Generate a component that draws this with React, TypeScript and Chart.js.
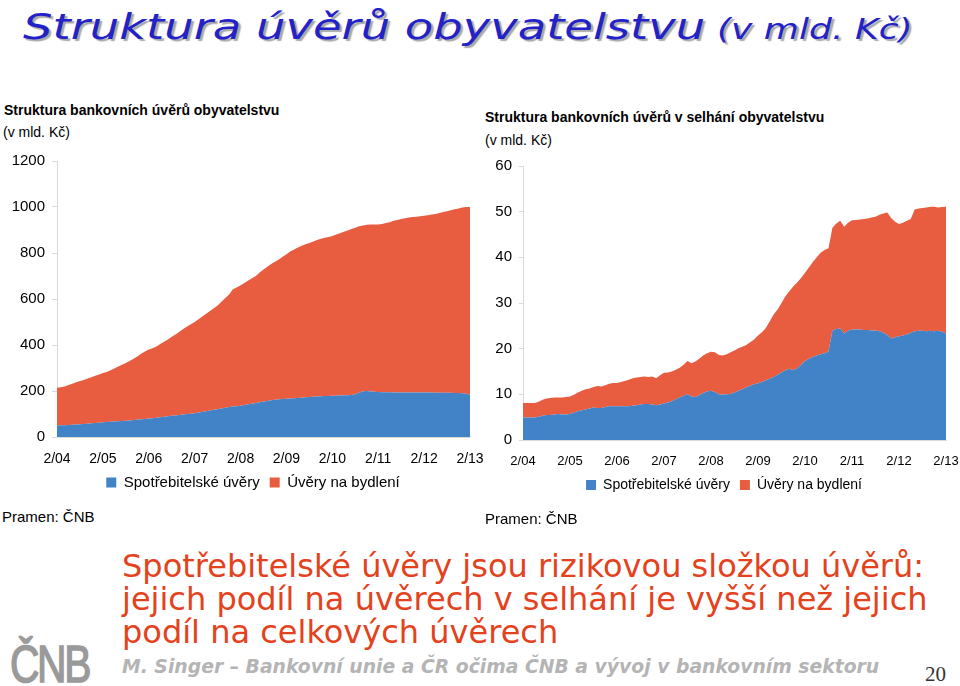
import React, { useEffect, useRef } from "react";
import { Chart, registerables } from "chart.js";

Chart.register(...registerables);

// ---- data ----
const YEAR_TICKS = ["2/04", "2/05", "2/06", "2/07", "2/08", "2/09", "2/10", "2/11", "2/12", "2/13"];
const SERIES_NAMES = ["Spotřebitelské úvěry", "Úvěry na bydlení"];
const SERIES_COLORS = ["#4183c6", "#e85c40"];

// monthly, 2/04 .. 2/13 (bn CZK)
const TOTAL_CONSUMER = [
  50, 51, 51, 52, 53, 54, 55, 57, 58, 60, 61, 62,
  64, 65, 66, 67, 68, 70, 71, 72, 74, 75, 77, 78,
  80, 82, 84, 86, 88, 90, 92, 94, 96, 98, 100, 101,
  103, 106, 109, 112, 115, 118, 121, 124, 127, 130, 133, 134,
  136, 139, 142, 145, 148, 151, 154, 157, 160, 162, 164, 165,
  166, 167, 168, 170, 171, 173, 174, 175, 176, 177, 178, 178,
  179, 179, 180, 181, 182, 183, 186, 192, 199, 200, 198, 197,
  196, 195, 195, 195, 194, 194, 194, 194, 194, 193, 193, 193,
  193, 193, 193, 192, 192, 192, 192, 192, 191, 191, 190, 188,
  184,
];
const TOTAL_HOUSING = [
  164, 165, 169, 174, 179, 184, 188, 191, 196, 200, 205, 210,
  214, 218, 224, 231, 238, 244, 251, 258, 266, 275, 285, 294,
  300, 304, 310, 318, 326, 334, 344, 352, 362, 372, 380, 389,
  397, 406, 415, 424, 433, 442, 451, 464, 477, 490, 509, 516,
  524, 531, 538, 545, 552, 564, 574, 583, 592, 600, 608, 619,
  629, 639, 647, 654, 661, 665, 670, 675, 680, 685, 688, 692,
  695, 701, 706, 711, 716, 721, 724, 724, 721, 723, 726, 727,
  728, 731, 735, 739, 746, 750, 754, 757, 760, 764, 765, 767,
  769, 771, 774, 778, 782, 786, 790, 794, 799, 803, 808, 812,
  816,
];
const NPL_CONSUMER = [
  4.9, 4.9, 4.9, 4.9, 5.1, 5.3, 5.5, 5.5, 5.6, 5.7, 5.6, 5.6,
  5.7, 6.0, 6.3, 6.5, 6.7, 6.9, 7.1, 7.0, 7.0, 7.2, 7.4, 7.4,
  7.4, 7.4, 7.4, 7.4, 7.5, 7.6, 7.8, 7.9, 7.9, 7.8, 7.6, 7.8,
  8.0, 8.2, 8.5, 8.9, 9.3, 9.7, 10.0, 9.5, 9.4, 9.8, 10.3, 10.6,
  10.8, 10.5, 10.0, 9.9, 10.0, 10.1, 10.4, 10.8, 11.1, 11.5, 11.9, 12.2,
  12.4, 12.7, 13.1, 13.4, 13.8, 14.3, 14.8, 15.3, 15.6, 15.3, 15.7, 16.5,
  17.3, 17.8, 18.2, 18.5, 18.8, 19.0, 19.4, 24.0, 24.3, 24.4, 23.3, 23.9,
  24.2, 24.2, 24.2, 24.1, 24.1, 24.0, 24.0, 23.8, 23.5, 23.0, 22.2, 22.5,
  22.7, 22.9, 23.1, 23.5, 23.8, 23.9, 23.9, 23.8, 23.9, 23.8, 23.9, 23.7,
  23.3,
];
const NPL_HOUSING = [
  3.2, 3.2, 3.2, 3.2, 3.3, 3.5, 3.6, 3.7, 3.7, 3.6, 3.7, 3.8,
  3.8, 3.9, 4.1, 4.3, 4.4, 4.4, 4.5, 4.8, 4.7, 4.8, 4.9, 5.1,
  5.1, 5.3, 5.5, 5.8, 6.0, 6.1, 6.0, 6.0, 5.9, 6.1, 5.9, 6.4,
  6.7, 6.6, 6.5, 6.5, 6.5, 6.8, 7.3, 7.3, 7.8, 8.0, 8.2, 8.4,
  8.5, 8.7, 8.6, 8.6, 8.8, 9.1, 9.2, 9.3, 9.3, 9.3, 9.5, 9.8,
  10.5, 10.9, 11.4, 12.6, 13.7, 14.3, 15.2, 16.2, 17.0, 18.3, 18.8, 19.0,
  19.3, 20.0, 20.8, 21.5, 22.2, 22.6, 22.6, 22.5, 23.1, 23.6, 23.4, 23.7,
  23.9, 24.0, 24.1, 24.3, 24.4, 24.7, 24.9, 25.5, 26.1, 26.8, 26.4, 25.3,
  24.6, 24.7, 24.9, 24.9, 26.7, 26.8, 26.9, 27.1, 27.2, 27.3, 27.0, 27.3,
  27.8,
];

// category labels: months from 2/04 to 2/13
const MONTHS: string[] = [];
for (let m = 0; m < TOTAL_CONSUMER.length; m++) {
  const k = m + 1; // months after January 2004
  const month = (k % 12) + 1;
  const year = 4 + Math.floor(k / 12);
  MONTHS.push(`${month}/${String(year).padStart(2, "0")}`);
}

type Cfg = {
  consumer: number[];
  housing: number[];
  yMax: number;
  yStep: number;
  yFont: number;
  xFont: number;
  legendFont: number;
  padding: { top: number; left: number; right: number; bottom: number };
  yWidth: number;
  rightSpace: number;
  xHeight: number;
  xGap: number;
  tickLen: number;
};

const FONT = "'Liberation Sans', Arial, sans-serif";

function makeConfig(c: Cfg): any {
  const ds = (i: number, data: number[], fill: any) => ({
    label: SERIES_NAMES[i],
    data,
    backgroundColor: SERIES_COLORS[i],
    borderColor: SERIES_COLORS[i],
    borderWidth: 0,
    pointRadius: 0,
    pointHoverRadius: 0,
    tension: 0,
    fill,
  });
  return {
    type: "line",
    data: {
      labels: MONTHS,
      datasets: [ds(0, c.consumer, "origin"), ds(1, c.housing, "-1")],
    },
    options: {
      animation: false,
      responsive: false,
      devicePixelRatio: 1,
      events: [],
      layout: { padding: c.padding },
      plugins: {
        title: { display: false },
        tooltip: { enabled: false },
        legend: {
          display: true,
          position: "bottom",
          labels: {
            boxWidth: 10,
            boxHeight: 10,
            padding: 10,
            color: "#000",
            font: { family: FONT, size: c.legendFont },
          },
        },
      },
      scales: {
        x: {
          type: "category",
          offset: false,
          grid: {
            display: true,
            drawOnChartArea: false,
            drawTicks: true,
            tickLength: c.xGap,
            color: "rgba(0,0,0,0)",
          },
          border: { display: true, color: "#d9d9d9" },
          ticks: {
            autoSkip: false,
            maxRotation: 0,
            minRotation: 0,
            padding: 3,
            color: "#000",
            font: { family: FONT, size: c.xFont },
            callback: (_v: any, idx: number) => (idx % 12 === 0 ? YEAR_TICKS[idx / 12] : null),
          },
          afterFit: (s: any) => {
            s.height = c.xHeight;
          },
        },
        y: {
          stacked: true,
          min: 0,
          max: c.yMax,
          grid: {
            display: true,
            drawOnChartArea: false,
            drawTicks: true,
            tickLength: c.tickLen,
            color: "#d9d9d9",
          },
          border: { display: true, color: "#d9d9d9" },
          ticks: {
            stepSize: c.yStep,
            padding: 7,
            color: "#000",
            font: { family: FONT, size: c.yFont },
            callback: (v: any) => String(v),
          },
          afterFit: (s: any) => {
            s.width = c.yWidth;
          },
        },
        // empty spacer on the right so that the legend centres where it does in the original
        spacer: {
          type: "linear",
          position: "right",
          display: true,
          grid: { display: false, drawTicks: false },
          border: { display: false },
          ticks: { display: false },
          afterFit: (s: any) => {
            s.width = c.rightSpace;
          },
        },
      },
    },
  };
}

function AreaChart(props: { cfg: Cfg; width: number; height: number; style: React.CSSProperties }) {
  const ref = useRef<HTMLCanvasElement | null>(null);
  useEffect(() => {
    if (!ref.current) return;
    const chart = new Chart(ref.current, makeConfig(props.cfg));
    return () => chart.destroy();
  }, []);
  return (
    <canvas
      ref={ref}
      width={props.width}
      height={props.height}
      style={{ position: "absolute", width: props.width, height: props.height, ...props.style }}
    />
  );
}

const sans = FONT;
const verdana = "'DejaVu Sans', Verdana, sans-serif";

export default function App() {
  const abs = (s: React.CSSProperties): React.CSSProperties => ({
    position: "absolute",
    whiteSpace: "nowrap",
    margin: 0,
    ...s,
  });
  return (
    <div
      style={{
        position: "absolute",
        left: 0,
        top: 0,
        width: 960,
        height: 686,
        background: "#fff",
        overflow: "hidden",
      }}
    >
      {/* main title */}
      <div
        style={abs({
          left: 23,
          top: 9,
          lineHeight: "36px",
          fontFamily: verdana,
          fontStyle: "italic",
          color: "#2222c8",
          textShadow: "2px 2px 1px #a8a8a8",
          transform: "scaleX(1.29)",
          transformOrigin: "left top",
        })}
      >
        <span style={{ fontSize: 36 }}>Struktura úvěrů obyvatelstvu</span>{" "}
        <span style={{ fontSize: 28, marginLeft: 4 }}>(v mld. Kč)</span>
      </div>

      {/* left chart titles */}
      <div style={abs({ left: 4, top: 102, fontFamily: sans, fontSize: 14, fontWeight: "bold", lineHeight: "16px" })}>
        Struktura bankovních úvěrů obyvatelstvu
      </div>
      <div style={abs({ left: 3, top: 124, fontFamily: sans, fontSize: 14, lineHeight: "16px" })}>(v mld. Kč)</div>

      {/* right chart titles */}
      <div style={abs({ left: 485, top: 109, fontFamily: sans, fontSize: 14, fontWeight: "bold", lineHeight: "16px" })}>
        Struktura bankovních úvěrů v selhání obyvatelstvu
      </div>
      <div style={abs({ left: 485, top: 132, fontFamily: sans, fontSize: 14, lineHeight: "16px" })}>(v mld. Kč)</div>

      <AreaChart
        width={500}
        height={360}
        style={{ left: 0, top: 145 }}
        cfg={{
          consumer: TOTAL_CONSUMER,
          housing: TOTAL_HOUSING,
          yMax: 1200,
          yStep: 200,
          yFont: 15,
          xFont: 14,
          legendFont: 15,
          padding: { top: 12, left: 9, right: 3, bottom: 5 },
          yWidth: 48,
          rightSpace: 27,
          xHeight: 28,
          xGap: 11,
          tickLen: 5,
        }}
      />
      <AreaChart
        width={485}
        height={360}
        style={{ left: 480, top: 150 }}
        cfg={{
          consumer: NPL_CONSUMER,
          housing: NPL_HOUSING,
          yMax: 60,
          yStep: 10,
          yFont: 15,
          xFont: 13,
          legendFont: 14,
          padding: { top: 15, left: 3, right: 0, bottom: 8 },
          yWidth: 40,
          rightSpace: 19,
          xHeight: 28,
          xGap: 11,
          tickLen: 4,
        }}
      />

      <div style={abs({ left: 2, top: 508, fontFamily: sans, fontSize: 15, lineHeight: "17px" })}>Pramen: ČNB</div>
      <div style={abs({ left: 485, top: 510, fontFamily: sans, fontSize: 15, lineHeight: "17px" })}>Pramen: ČNB</div>

      {/* conclusion */}
      <div
        style={abs({
          left: 122,
          top: 550,
          fontFamily: verdana,
          fontSize: 32,
          lineHeight: "33px",
          color: "#e4421c",
        })}
      >
        Spotřebitelské úvěry jsou rizikovou složkou úvěrů:
        <br />
        jejich podíl na úvěrech v selhání je vyšší než jejich
        <br />
        podíl na celkových úvěrech
      </div>

      {/* logo */}
      <div
        style={abs({
          left: 10,
          top: 639,
          fontFamily: sans,
          fontSize: 51,
          lineHeight: "51px",
          color: "#9a9a9a",
          transform: "scaleX(0.8)",
          transformOrigin: "left top",
          letterSpacing: "-3px",
          WebkitTextStroke: "1.5px #9a9a9a",
        })}
      >
        ČNB
      </div>

      {/* footer */}
      <div
        style={abs({
          left: 122,
          top: 657,
          fontFamily: verdana,
          fontSize: 18.8,
          fontWeight: "bold",
          fontStyle: "italic",
          lineHeight: "19px",
          color: "#b4b4b4",
        })}
      >
        M. Singer – Bankovní unie a ČR očima ČNB a vývoj v bankovním sektoru
      </div>
      <div
        style={abs({
          left: 925,
          top: 663,
          fontFamily: "'Liberation Serif', 'DejaVu Serif', serif",
          fontSize: 21,
          lineHeight: "22px",
          color: "#333",
        })}
      >
        20
      </div>
    </div>
  );
}
